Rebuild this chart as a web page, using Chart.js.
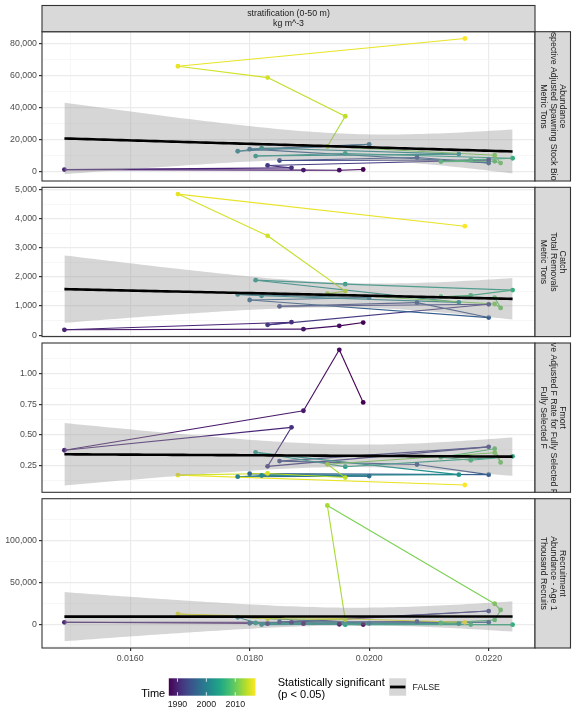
<!DOCTYPE html>
<html><head><meta charset="utf-8">
<script src="https://cdn.jsdelivr.net/npm/chart.js@4.4.1/dist/chart.umd.min.js"></script>
<style>
html,body{margin:0;padding:0;background:#fff;}
#wrap{position:relative;width:576px;height:720px;overflow:hidden;background:#fff;}
canvas{position:absolute;left:0;top:0;}
</style></head><body><div id="wrap">
<canvas id="c0" width="576" height="720"></canvas>
<canvas id="c1" width="576" height="720"></canvas>
<canvas id="c2" width="576" height="720"></canvas>
<canvas id="c3" width="576" height="720"></canvas>
</div>
<script>
// ---------------- data (time ordered) ----------------
const years = [1987,1988,1989,1990,1991,1992,1993,1994,1995,1996,1997,1998,2000,2001,2002,2003,2004,2006,2007,2008,2009,2010,2011,2013,2014,2015,2016,2017];
const stratification = [0.0199,0.0195,0.0189,0.0149,0.0187,0.0183,0.0220,0.0185,0.0208,0.0220,0.0180,0.0200,0.0178,0.0182,0.0215,0.0181,0.0196,0.0224,0.0217,0.0212,0.0221,0.0222,0.0221,0.0193,0.0196,0.0183,0.0168,0.0216];
const ssbTons = [1050,620,700,1000,2100,3600,7000,6700,8600,5100,13800,16800,12500,14500,10700,9500,11100,8100,7100,6000,6200,5100,10000,15500,34400,58600,65700,83100];
const catchTons = [432,318,205,182,443,352,1057,989,1114,602,1205,1284,1398,1352,1125,1886,1750,1545,1364,1318,1290,932,1068,1420,1511,3409,4841,3739];
const fmortRate = [0.764,1.196,0.696,0.372,0.560,0.240,0.400,0.283,0.255,0.172,0.180,0.160,0.155,0.165,0.172,0.355,0.237,0.322,0.290,0.315,0.385,0.272,0.352,0.257,0.148,0.182,0.168,0.087];
const recruits = [400,800,1500,3100,3100,1500,16400,3500,3900,3100,2000,2000,9000,400,1500,2300,300,300,500,2300,5900,17600,25000,141000,6200,7400,12900,3100];

// tick labels
const xTicks = [0.016, 0.018, 0.020, 0.022];
const ssbTicks = [0, 20000, 40000, 60000, 80000];
const catchTicks = [0, 1000, 2000, 3000, 4000, 5000];
const fmortTicks = [0.25, 0.50, 0.75, 1.00];
const recruitTicks = [0, 50000, 100000];
const timeTicks = [1990, 2000, 2010];

// text
const topStrip = ["stratification (0-50 m)", "kg m^-3"];
const ssbStrip = ["Abundance", "Retrospective Adjusted Spawning Stock Biomass", "Metric Tons"];
const catchStrip = ["Catch", "Total Removals", "Metric Tons"];
const fmortStrip = ["Fmort", "Retrospective Adjusted F Rate for Fully Selected Fishing Mort", "Fully Selected F"];
const recruitStrip = ["Recruitment", "Abundance - Age 1", "Thousand Recruits"];

// ---------------- helpers ----------------
const FONT = "'Liberation Sans', Arial, Helvetica, sans-serif";
const VIR = ['#440154','#482475','#414487','#355f8d','#2a788e','#21918c','#22a884','#44bf70','#7ad151','#bddf26','#fde725'];
function hex(h){return [parseInt(h.slice(1,3),16),parseInt(h.slice(3,5),16),parseInt(h.slice(5,7),16)];}
function viridis(t){
  t=Math.max(0,Math.min(1,t)); const p=t*(VIR.length-1); const i=Math.min(Math.floor(p),VIR.length-2); const f=p-i;
  const a=hex(VIR[i]), b=hex(VIR[i+1]);
  return 'rgb('+a.map((v,k)=>Math.round(v+(b[k]-v)*f)).join(',')+')';
}
const yearMin = Math.min(...years), yearMax = Math.max(...years);
const pointColors = years.map(y => viridis((y-yearMin)/(yearMax-yearMin)));

const T_CRIT = 2.0555; // qt(0.975, n - 2) with n = 28
function lmBand(xs, ys, nOut){
  const n=xs.length;
  const xbar=xs.reduce((a,b)=>a+b,0)/n, ybar=ys.reduce((a,b)=>a+b,0)/n;
  let sxx=0,sxy=0; for(let i=0;i<n;i++){sxx+=(xs[i]-xbar)**2; sxy+=(xs[i]-xbar)*(ys[i]-ybar);}
  const b=sxy/sxx, a=ybar-b*xbar;
  let rss=0; for(let i=0;i<n;i++){rss+=(ys[i]-a-b*xs[i])**2;}
  const s=Math.sqrt(rss/(n-2));
  const lo=Math.min(...xs), hi=Math.max(...xs);
  const fit=[],up=[],dn=[];
  for(let k=0;k<nOut;k++){
    const x=lo+(hi-lo)*k/(nOut-1), f=a+b*x, se=s*Math.sqrt(1/n+(x-xbar)**2/sxx);
    fit.push({x,y:f}); up.push({x,y:f+T_CRIT*se}); dn.push({x,y:f-T_CRIT*se});
  }
  return {fit,up,dn};
}

const xLo = Math.min(...stratification), xHi = Math.max(...stratification);
const xMin = xLo-(xHi-xLo)*0.05, xMax = xHi+(xHi-xLo)*0.05;

const PANEL_LEFT=42, PANEL_RIGHT=535, STRIP_RIGHT=570.5;
const panelTops=[31.7,187.3,343.0,498.7], PANEL_H=149.3;
const X_AXIS_H=20;

function minorsOf(major, lo, hi){
  const step=major[1]-major[0], out=[];
  for(let v=major[0]-step/2; v<=hi+1e-12; v+=step){ if(v>=lo && !major.some(m=>Math.abs(m-v)<step*1e-6)) out.push(v); }
  return out;
}

function stripPlugin(idx, lines){
  return {
    id:'strips'+idx,
    afterDraw(chart){
      const ctx=chart.ctx, ca=chart.chartArea;
      ctx.save();
      ctx.strokeStyle='#333333'; ctx.lineWidth=1.1;
      ctx.strokeRect(ca.left,ca.top,ca.right-ca.left,ca.bottom-ca.top);
      const sx=ca.right, sw=STRIP_RIGHT-ca.right, sy=ca.top, sh=ca.bottom-ca.top;
      ctx.fillStyle='#d9d9d9'; ctx.fillRect(sx,sy,sw,sh);
      ctx.strokeRect(sx,sy,sw,sh);
      ctx.save();
      ctx.beginPath(); ctx.rect(sx,sy,sw,sh); ctx.clip();
      ctx.translate(sx+sw/2+0.2, sy+sh/2); ctx.rotate(Math.PI/2);
      ctx.fillStyle='#1a1a1a'; ctx.font='8.7px '+FONT; ctx.textAlign='center'; ctx.textBaseline='middle';
      lines.forEach((t,i)=>ctx.fillText(t,0,(i-1)*9.5));
      ctx.restore();
      if(idx===0){
        const tx=ca.left, tw=ca.right-ca.left, ty=5.5, th=ca.top-5.5;
        ctx.fillStyle='#d9d9d9'; ctx.fillRect(tx,ty,tw,th);
        ctx.strokeRect(tx,ty,tw,th);
        ctx.fillStyle='#1a1a1a'; ctx.font='8.8px '+FONT; ctx.textAlign='center'; ctx.textBaseline='middle';
        ctx.fillText(topStrip[0], tx+tw/2, 13.8);
        ctx.fillText(topStrip[1], tx+tw/2, 23.2);
      }
      ctx.restore();
    }
  };
}

const legendPlugin = {
  id:'ggLegend',
  afterDraw(chart){
    const ctx=chart.ctx; ctx.save();
    ctx.fillStyle='#000'; ctx.font='11px '+FONT; ctx.textBaseline='middle'; ctx.textAlign='left';
    ctx.fillText('Time',141.2,693.8);
    const x0=168.8,x1=255.5,y0=678.3,y1=695.7;
    const g=ctx.createLinearGradient(x0,0,x1,0);
    VIR.forEach((c,i)=>g.addColorStop(i/(VIR.length-1),c));
    ctx.fillStyle=g; ctx.fillRect(x0,y0,x1-x0,y1-y0);
    ctx.strokeStyle='#ffffff'; ctx.lineWidth=0.8;
    ctx.fillStyle='#1a1a1a'; ctx.font='8.8px '+FONT; ctx.textAlign='center';
    timeTicks.forEach(t=>{
      const x=x0+(t-yearMin)/(yearMax-yearMin)*(x1-x0);
      ctx.beginPath(); ctx.moveTo(x,y0); ctx.lineTo(x,y0+3.5); ctx.moveTo(x,y1); ctx.lineTo(x,y1-3.5); ctx.stroke();
      ctx.fillText(String(t),x,704.2);
    });
    ctx.fillStyle='#000'; ctx.font='11px '+FONT; ctx.textAlign='left';
    ctx.fillText('Statistically significant',277.7,683.2);
    ctx.fillText('(p < 0.05)',277.7,695.4);
    ctx.fillStyle='#d6d6d6'; ctx.fillRect(389.2,678.3,17,17.4);
    ctx.strokeStyle='#000'; ctx.lineWidth=2.8;
    ctx.beginPath(); ctx.moveTo(390,687); ctx.lineTo(405.4,687); ctx.stroke();
    ctx.fillStyle='#1a1a1a'; ctx.font='8.8px '+FONT;
    ctx.fillText('FALSE',412.5,687.2);
    ctx.restore();
  }
};

function makePanel(idx, values, major, fmt, lines){
  const band=lmBand(stratification, values, 80);
  const allY=values.concat(band.up.map(p=>p.y), band.dn.map(p=>p.y));
  const lo=Math.min(...allY), hi=Math.max(...allY), pad=(hi-lo)*0.05;
  const yMin=lo-pad, yMax=hi+pad;
  const yMinor=minorsOf(major,yMin,yMax);
  const xMinor=minorsOf(xTicks,xMin,xMax);
  const pts=stratification.map((x,i)=>({x,y:values[i]}));
  const isBottom = idx===3;
  const plugins=[stripPlugin(idx,lines)];
  if(isBottom) plugins.push(legendPlugin);
  const xh = isBottom ? X_AXIS_H : 0;
  return new Chart(document.getElementById('c'+idx),{
    type:'line',
    data:{datasets:[
      {label:'fit',data:band.fit,borderColor:'#000000',borderWidth:2.6,pointRadius:0,fill:false,order:0,tension:0},
      {label:'upper',data:band.up,borderColor:'rgba(0,0,0,0)',borderWidth:0,pointRadius:0,fill:'+1',backgroundColor:'rgba(153,153,153,0.4)',order:1},
      {label:'lower',data:band.dn,borderColor:'rgba(0,0,0,0)',borderWidth:0,pointRadius:0,fill:false,order:1},
      {label:'path',data:pts,borderWidth:1.1,pointRadius:2.4,pointBorderWidth:0,
        pointBackgroundColor:pointColors,pointBorderColor:pointColors,fill:false,order:2,tension:0,
        segment:{borderColor:c=>pointColors[c.p0DataIndex]}}
    ]},
    options:{
      responsive:false, animation:false, devicePixelRatio:1, events:[],
      layout:{padding:{left:0,right:576-PANEL_RIGHT,top:panelTops[idx],bottom:720-panelTops[idx]-PANEL_H-xh}},
      plugins:{legend:{display:false},tooltip:{enabled:false}},
      scales:{
        x:{type:'linear',min:xMin,max:xMax,
          afterBuildTicks:s=>{s.ticks=xMinor.concat(xTicks).sort((a,b)=>a-b).map(v=>({value:v}));},
          afterFit:s=>{s.height=xh;},
          border:{display:false},
          grid:{color:c=>xTicks.includes(c.tick.value)?'#ebebeb':'#f4f4f4',
                lineWidth:c=>xTicks.includes(c.tick.value)?1.2:0.7,
                drawTicks:isBottom,tickLength:3,
                tickColor:c=>xTicks.includes(c.tick.value)?'#333333':'rgba(0,0,0,0)'},
          ticks:{display:isBottom,autoSkip:false,maxRotation:0,minRotation:0,padding:2,color:'#4d4d4d',font:{size:8.8,family:FONT},
                 callback:v=>xTicks.includes(v)?v.toFixed(4):''}
        },
        y:{type:'linear',min:yMin,max:yMax,
          afterBuildTicks:s=>{s.ticks=yMinor.concat(major.filter(v=>v>=yMin&&v<=yMax)).sort((a,b)=>a-b).map(v=>({value:v}));},
          afterFit:s=>{s.width=PANEL_LEFT;},
          border:{display:false},
          grid:{color:c=>major.includes(c.tick.value)?'#ebebeb':'#f4f4f4',
                lineWidth:c=>major.includes(c.tick.value)?1.2:0.7,
                drawTicks:true,tickLength:3,
                tickColor:c=>major.includes(c.tick.value)?'#333333':'rgba(0,0,0,0)'},
          ticks:{autoSkip:false,padding:2,color:'#4d4d4d',font:{size:8.8,family:FONT},
                 callback:v=>major.includes(v)?fmt(v):''}
        }
      }
    },
    plugins
  });
}

const comma=v=>v.toLocaleString('en-US');
makePanel(0, ssbTons, ssbTicks, comma, ssbStrip);
makePanel(1, catchTons, catchTicks, comma, catchStrip);
makePanel(2, fmortRate, fmortTicks, v=>v.toFixed(2), fmortStrip);
makePanel(3, recruits, recruitTicks, comma, recruitStrip);
</script>
</body></html>
